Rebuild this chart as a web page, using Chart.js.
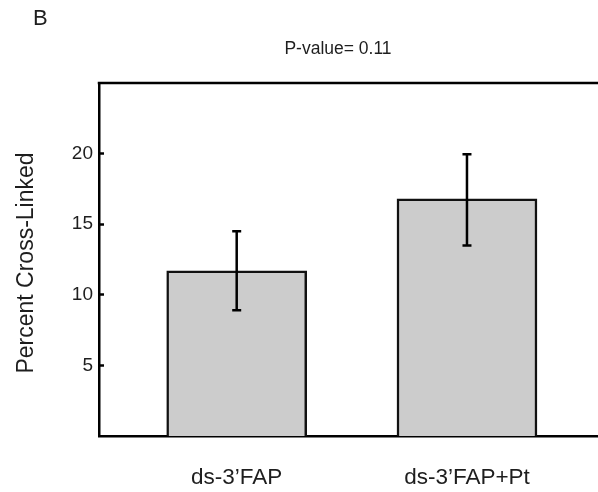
<!DOCTYPE html>
<html>
<head>
<meta charset="utf-8">
<script src="https://cdn.jsdelivr.net/npm/chart.js@4/dist/chart.umd.min.js"></script>
<style>
  html, body { margin: 0; padding: 0; background: #fff; }
  canvas { display: block; }
</style>
</head>
<body>
<canvas id="myChart" width="598" height="492"></canvas>
<script>
// data
const categories = ["ds-3\u2019FAP", "ds-3\u2019FAP+Pt"];
const meanValues = [11.7, 16.8];
const errLower = [8.9, 13.5];
const errUpper = [14.5, 19.95];
const yTicks = [5, 10, 15, 20];
const panelLabel = "B";
const pValueText = "P-value= 0.11";
const yTitle = "Percent Cross-Linked";

const textColor = "#1e1e1e";
const fontFamily = "'Liberation Sans', Arial, sans-serif";

// frame top line, error bars and free text
const extras = {
  id: "extras",
  afterDatasetsDraw(chart) {
    const ctx = chart.ctx;
    const xs = chart.scales.x, ys = chart.scales.y;
    ctx.save();
    ctx.strokeStyle = "#000";
    ctx.lineWidth = 2.5;
    meanValues.forEach((v, i) => {
      const px = xs.getPixelForValue(i + 1);
      const lo = ys.getPixelForValue(errLower[i]);
      const hi = ys.getPixelForValue(errUpper[i]);
      ctx.beginPath();
      ctx.moveTo(px, lo); ctx.lineTo(px, hi);
      ctx.moveTo(px - 4.5, lo); ctx.lineTo(px + 4.5, lo);
      ctx.moveTo(px - 4.5, hi); ctx.lineTo(px + 4.5, hi);
      ctx.stroke();
    });
    ctx.restore();
  },
  afterDraw(chart) {
    const ctx = chart.ctx;
    const a = chart.chartArea;
    ctx.save();
    ctx.strokeStyle = "#000";
    ctx.lineWidth = 2.5;
    ctx.beginPath();
    ctx.moveTo(a.left - 1.25, a.top);
    ctx.lineTo(a.right, a.top);
    ctx.stroke();

    ctx.fillStyle = textColor;
    ctx.textBaseline = "alphabetic";
    ctx.font = "22px " + fontFamily;
    ctx.textAlign = "left";
    ctx.fillText(panelLabel, 33, 25);

    ctx.font = "17.5px " + fontFamily;
    ctx.textAlign = "center";
    ctx.fillText(pValueText, 338, 54);

    ctx.translate(33, 263);
    ctx.rotate(-Math.PI / 2);
    ctx.font = "23px " + fontFamily;
    ctx.textAlign = "center";
    ctx.fillText(yTitle, 0, 0);
    ctx.restore();
  }
};

const data = {
  datasets: [{
    data: meanValues.map((v, i) => ({ x: i + 1, y: v })),
    backgroundColor: "#cccccc",
    borderColor: "#111",
    borderWidth: 2.5,
    barThickness: 140
  }]
};

const config = {
  type: "bar",
  data: data,
  options: {
    responsive: false,
    animation: false,
    layout: { padding: { top: 83, left: 0, right: 0, bottom: 0 } },
    plugins: { legend: { display: false }, tooltip: { enabled: false } },
    scales: {
      x: {
        type: "linear",
        offset: false,
        min: 0.402,
        max: 2.569,
        z: 1,
        afterBuildTicks: (s) => { s.ticks = categories.map((c, i) => ({ value: i + 1 })); },
        afterFit: (s) => { s.height = 56; },
        grid: { display: false },
        border: { display: true, color: "#000", width: 2.5 },
        ticks: {
          padding: 20,
          color: textColor,
          font: { size: 22.5, family: fontFamily },
          maxRotation: 0,
          callback: (v) => categories[Math.round(v) - 1]
        }
      },
      y: {
        min: 0,
        max: 25,
        z: 1,
        afterBuildTicks: (s) => { s.ticks = yTicks.map(v => ({ value: v })); },
        afterFit: (s) => { s.width = 99; },
        grid: { drawOnChartArea: false, tickLength: -5, tickWidth: 2.5, tickColor: "#000" },
        border: { display: true, color: "#000", width: 2.5 },
        ticks: {
          padding: 11,
          color: textColor,
          font: { size: 19, family: fontFamily }
        }
      }
    }
  },
  plugins: [extras]
};

new Chart(document.getElementById("myChart"), config);
</script>
</body>
</html>
